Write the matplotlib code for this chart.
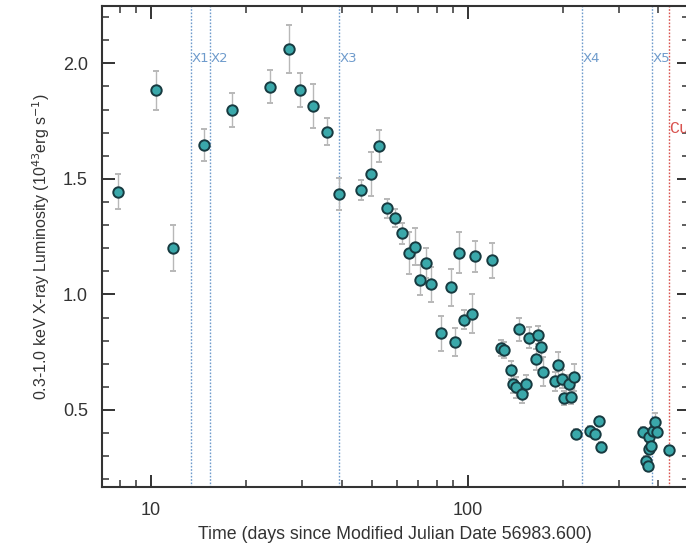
import matplotlib
matplotlib.use("Agg")
import matplotlib.pyplot as plt
from matplotlib.ticker import FixedLocator, NullFormatter, MultipleLocator, FixedFormatter

plt.rcParams['font.family'] = ['Liberation Sans', 'DejaVu Sans']

# Days since MJD 56983.600
days = [7.90, 10.37, 11.73, 14.73, 18.10, 23.74, 27.26, 29.53, 32.61, 36.03,
        39.22, 46.02, 49.6, 52.56, 55.7, 58.9, 62.0, 65.4, 68.1, 70.6,
        74.1, 76.5, 82.4, 88.4, 91.5, 94.1, 97.6, 103.6, 105.8, 119.3,
        127.8, 129.9, 136.9, 139.5, 141.9, 145.6, 148.8, 153.0, 155.8, 163.9,
        167.2, 170.2, 172.9, 189.3, 192.3, 198.7, 201.6, 208.4, 211.4, 217.3,
        220.0, 243.0, 252.6, 259.5, 263.3, 357.3, 365.9, 370.0, 373.3, 374.9,
        380.4, 384.3, 391.6, 395.6, 432.0]

# 0.3-1.0 keV luminosity, 1e43 erg/s
lum = [1.445, 1.883, 1.200, 1.647, 1.798, 1.899, 2.062, 1.885, 1.817, 1.704,
       1.434, 1.452, 1.520, 1.643, 1.372, 1.330, 1.264, 1.179, 1.206, 1.064,
       1.138, 1.044, 0.831, 1.031, 0.793, 1.181, 0.891, 0.916, 1.165, 1.147,
       0.767, 0.758, 0.672, 0.614, 0.598, 0.850, 0.570, 0.612, 0.813, 0.719,
       0.824, 0.771, 0.666, 0.624, 0.693, 0.635, 0.551, 0.612, 0.555, 0.641,
       0.398, 0.411, 0.398, 0.451, 0.341, 0.405, 0.281, 0.257, 0.333, 0.385,
       0.343, 0.407, 0.450, 0.404, 0.326]

lum_err = [0.075, 0.085, 0.100, 0.070, 0.072, 0.072, 0.105, 0.073, 0.095, 0.058,
           0.068, 0.043, 0.095, 0.070, 0.043, 0.040, 0.045, 0.090, 0.080, 0.065,
           0.065, 0.075, 0.077, 0.080, 0.060, 0.087, 0.040, 0.085, 0.068, 0.074,
           0.035, 0.035, 0.040, 0.040, 0.045, 0.050, 0.040, 0.040, 0.045, 0.045,
           0.040, 0.040, 0.063, 0.040, 0.058, 0.040, 0.030, 0.040, 0.030, 0.060,
           0.020, 0.020, 0.020, 0.020, 0.020, 0.020, 0.020, 0.020, 0.020, 0.020,
           0.020, 0.020, 0.035, 0.020, 0.020]

# Epoch markers
epoch_names = ["X1", "X2", "X3", "X4", "X5"]
epoch_days = [13.4, 15.39, 39.4, 229.5, 383.0]
cut_day = 431.0
cut_label = "Cut"

W, H = 686, 549
fig = plt.figure(figsize=(W / 100, H / 100), dpi=100)
ax = fig.add_axes([101.7 / W, 1 - 486.7 / H, (689 - 101.7) / W, (486.7 - 6) / H])

ax.set_xscale("log")
ax.set_xlim(7.0, 500.0)
ax.set_ylim(0.168, 2.248)

blue = "#6e9bcc"
for name, d in zip(epoch_names, epoch_days):
    ax.axvline(d, color=blue, lw=1.0, ls=(0, (1.2, 1.2)), zorder=1)
    ax.text(d * 1.003, 2.02, name, color=blue, fontsize=9.5,
            family="DejaVu Sans", ha="left", va="center", zorder=2)

red = "#d9534f"
ax.axvline(cut_day, color=red, lw=1.0, ls=(0, (1.2, 1.2)), zorder=1)
ax.text(cut_day * 1.006, 1.72, cut_label, color=red, fontsize=12,
        family="Liberation Mono", ha="left", va="center", zorder=2)

ax.errorbar(days, lum, yerr=lum_err, fmt="o", ms=7.5, mfc="#3aa8aa",
            mec="#173a40", mew=1.4, ecolor="#b8b8b8", elinewidth=1.0,
            capsize=2.5, capthick=1.0, zorder=3)

ax.xaxis.set_major_locator(FixedLocator([10, 100]))
ax.xaxis.set_major_formatter(FixedFormatter(["10", "100"]))
minor_x = [8, 9] + [20, 30, 40, 50, 60, 70, 80, 90] + [200, 300, 400]
ax.xaxis.set_minor_locator(FixedLocator(minor_x))
ax.xaxis.set_minor_formatter(NullFormatter())
ax.yaxis.set_major_locator(FixedLocator([0.5, 1.0, 1.5, 2.0]))
ax.yaxis.set_major_formatter(FixedFormatter(["0.5", "1.0", "1.5", "2.0"]))
ax.yaxis.set_minor_locator(MultipleLocator(0.1))

spine_col = "#333333"
for s in ax.spines.values():
    s.set_linewidth(1.5)
    s.set_color(spine_col)

ax.tick_params(which="both", direction="in", top=True, right=True,
               color=spine_col, labelcolor="#333333", labelsize=13)
ax.tick_params(which="major", length=9, width=1.4, pad=10)
ax.tick_params(axis="x", which="major", pad=11)
ax.tick_params(which="minor", length=5, width=1.1)

ax.set_xlabel("Time (days since Modified Julian Date 56983.600)",
              fontsize=12.8, color="#333333", labelpad=5)
ax.set_ylabel(r"0.3-1.0 keV X-ray Luminosity (10$^{43}$erg s$^{-1}$)",
              fontsize=11.5, color="#333333", labelpad=8)

fig.savefig("out.png", dpi=100)
